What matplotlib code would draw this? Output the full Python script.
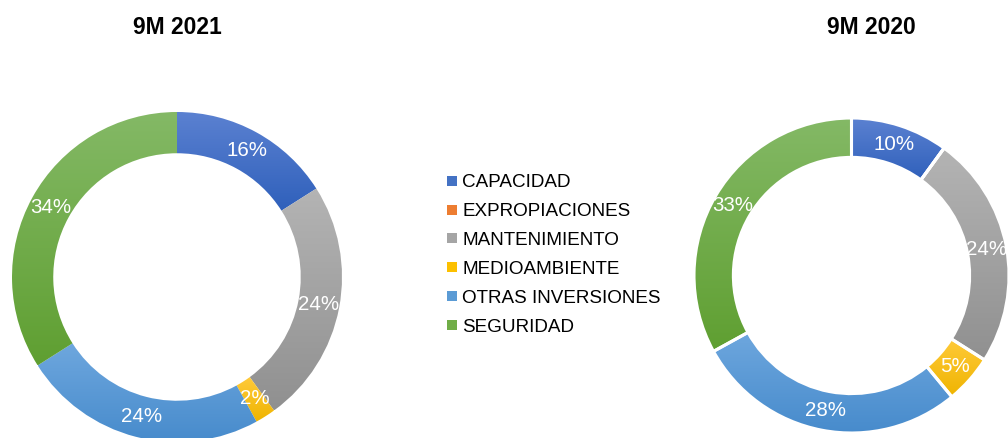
import numpy as np
import matplotlib
matplotlib.use('Agg')
import matplotlib.pyplot as plt
from matplotlib.colors import LinearSegmentedColormap
from matplotlib.lines import Line2D

plt.rcParams['font.family'] = ['Liberation Sans', 'DejaVu Sans']

# data
categories = ['CAPACIDAD', 'EXPROPIACIONES', 'MANTENIMIENTO',
              'MEDIOAMBIENTE', 'OTRAS INVERSIONES', 'SEGURIDAD']
values_2021 = [16, 0, 24, 2, 24, 34]
values_2020 = [10, 0, 24, 5, 28, 33]
titles = ['9M 2021', '9M 2020']

# excel style gradient fills: (top colour, bottom colour)
grad_top = ['#5b81d1', '#f08a48', '#b4b4b4', '#ffca3a', '#6ea7de', '#84b966']
grad_bottom = ['#2f60bb', '#df6a20', '#909090', '#efb400', '#478bcc', '#5f9f31']
solid = ['#4472c4', '#ed7d31', '#a5a5a5', '#fcc000', '#5b9bd5', '#70ad47']


def donut(ax, values, edge):
    wedges, _, autotexts = ax.pie(
        values, startangle=90, counterclock=False, radius=1.0,
        autopct=lambda p: f'{p:.0f}%' if p >= 0.5 else '',
        pctdistance=0.875,
        wedgeprops=dict(width=0.25, linewidth=edge, edgecolor='white'),
        textprops=dict(color='white', fontsize=14.8))
    for i, w in enumerate(wedges):
        if values[i] == 0:
            continue
        ext = w.get_path().get_extents()
        cmap = LinearSegmentedColormap.from_list('g', [grad_top[i], grad_bottom[i]])
        im = ax.imshow(np.linspace(0, 1, 256).reshape(-1, 1), cmap=cmap,
                       extent=(ext.x0, ext.x1, ext.y0, ext.y1),
                       aspect='auto', zorder=0, interpolation='bilinear')
        im.set_clip_path(w)
        w.set_facecolor('none')
        w.set_zorder(1)
    for t in autotexts:
        t.set_zorder(3)
    ax.set_xlim(-1, 1)
    ax.set_ylim(-1, 1)
    ax.set_aspect('equal')
    ax.axis('off')


W, H = 1008, 438
fig = plt.figure(figsize=(W / 100, H / 100), dpi=100)

# left donut: centre (177, 277) px, radius 165 px
ax1 = fig.add_axes([(177 - 165) / W, (H - 277 - 165) / H, 330 / W, 330 / H])
donut(ax1, values_2021, 0)
# right donut: centre (851.5, 275.5) px, radius 157.5 px
ax2 = fig.add_axes([(851.5 - 157.5) / W, (H - 275.5 - 157.5) / H, 315 / W, 315 / H])
donut(ax2, values_2020, 2.2)

fig.text(177 / W, 1 - 28 / H, titles[0], ha='center', va='center',
         fontsize=16.5, fontweight='bold')
fig.text(871 / W, 1 - 28 / H, titles[1], ha='center', va='center',
         fontsize=16.5, fontweight='bold')

handles = [Line2D([], [], linestyle='none', marker='s', markersize=6.5,
                  markerfacecolor=c, markeredgewidth=0) for c in solid]
fig.legend(handles, categories, loc='upper left',
           bbox_to_anchor=(446 / W, 1 - 174 / H), frameon=False,
           fontsize=13.6, handlelength=0.6, handletextpad=0.25,
           labelspacing=0.62, borderpad=0, borderaxespad=0)

fig.savefig('out.png', dpi=100)
